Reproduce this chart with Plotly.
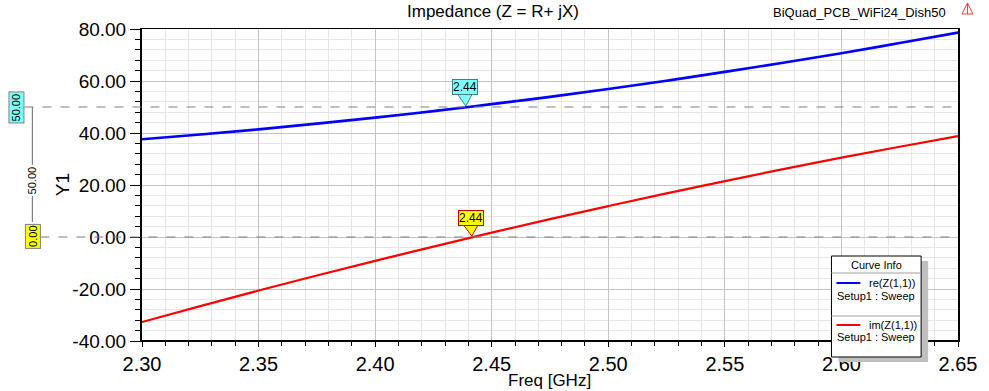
import plotly.graph_objects as go

freq = [2.300, 2.325, 2.350, 2.375, 2.400, 2.425, 2.450, 2.475, 2.500,
        2.525, 2.550, 2.575, 2.600, 2.625, 2.650]
re_z = [37.6, 39.4, 41.4, 43.6, 45.9, 48.4, 51.1, 53.9, 56.9,
        60.1, 63.5, 67.0, 70.7, 74.6, 78.6]
im_z = [-32.7, -26.6, -20.6, -14.8, -9.2, -3.7, 1.7, 6.9, 11.9,
        16.8, 21.5, 26.1, 30.5, 34.7, 38.8]

x_ticks = [2.30, 2.35, 2.40, 2.45, 2.50, 2.55, 2.60, 2.65]
y_ticks = [-40, -20, 0, 20, 40, 60, 80]

marker_freq = 2.44
marker_re = 50.0
marker_im = 0.0

W, H = 989, 391
L, R, T, B = 142, 961, 29, 341   # plot area in window pixels
FONT = "Arial, Liberation Sans, sans-serif"


def X(px):
    return (px - L) / (R - L)


def Y(py):
    return (B - py) / (B - T)


fig = go.Figure()
fig.add_trace(go.Scatter(x=freq, y=re_z, mode="lines", line=dict(color="#0000ff", width=2.6),
                         line_shape="spline", showlegend=False, hoverinfo="skip"))
fig.add_trace(go.Scatter(x=freq, y=im_z, mode="lines", line=dict(color="#ff0000", width=2.2),
                         line_shape="spline", showlegend=False, hoverinfo="skip"))

shapes = []
anns = []

# dashed marker lines
shapes.append(dict(type="line", xref="paper", yref="y", x0=X(24), x1=1, y0=marker_re, y1=marker_re,
                   line=dict(color="#808080", width=1.2, dash="dash")))
shapes.append(dict(type="line", xref="paper", yref="y", x0=X(40), x1=1, y0=marker_im, y1=marker_im,
                   line=dict(color="#808080", width=1.2, dash="dash")))
# vertical delta line at left
shapes.append(dict(type="line", xref="paper", yref="paper", x0=X(32), x1=X(32), y0=Y(107), y1=Y(222),
                   line=dict(color="#808080", width=1.2)))
anns.append(dict(xref="paper", yref="paper", x=X(32), y=Y(180), text="50.00", showarrow=False,
                 textangle=-90, bgcolor="white", font=dict(family=FONT, size=11, color="black"),
                 xanchor="center", yanchor="middle", borderpad=1))
anns.append(dict(xref="paper", yref="paper", x=X(15.5), y=Y(107.5), text="50.00", showarrow=False,
                 textangle=-90, bgcolor="#80ffff", bordercolor="#808080", borderwidth=1,
                 font=dict(family=FONT, size=11, color="black"), xanchor="center", yanchor="middle",
                 borderpad=1))
anns.append(dict(xref="paper", yref="paper", x=X(32.5), y=Y(236), text="0.00", showarrow=False,
                 textangle=-90, bgcolor="#ffff00", bordercolor="#808080", borderwidth=1,
                 font=dict(family=FONT, size=11, color="black"), xanchor="center", yanchor="middle",
                 borderpad=1))


def tri(xc, ytop, xtip, ytip, half):
    return "M {} {} L {} {} L {} {} Z".format(X(xc - half), Y(ytop), X(xc + half), Y(ytop), X(xtip), Y(ytip))


# data markers (boxes with pointers)
shapes.append(dict(type="path", xref="paper", yref="paper", path=tri(466, 93, 467, 106, 8),
                   fillcolor="#80ffff", line=dict(color="#408080", width=1)))
anns.append(dict(xref="paper", yref="paper", x=X(466), y=Y(87), text=f"{marker_freq:.2f}", showarrow=False,
                 bgcolor="#80ffff", bordercolor="#408080", borderwidth=1, borderpad=0,
                 font=dict(family=FONT, size=12, color="black"), xanchor="center", yanchor="middle"))
shapes.append(dict(type="path", xref="paper", yref="paper", path=tri(472, 224, 473, 236, 8),
                   fillcolor="#ffff00", line=dict(color="#c00000", width=1)))
anns.append(dict(xref="paper", yref="paper", x=X(472.5), y=Y(218), text=f"{marker_freq:.2f}", showarrow=False,
                 bgcolor="#ffff00", bordercolor="#c00000", borderwidth=1, borderpad=0,
                 font=dict(family=FONT, size=12, color="black"), xanchor="center", yanchor="middle"))

# bottom axis thicker line
shapes.append(dict(type="line", xref="paper", yref="paper", x0=0, x1=1, y0=0, y1=0,
                   line=dict(color="black", width=2)))

# legend box (Curve Info)
shapes.append(dict(type="rect", xref="paper", yref="paper", x0=X(841), x1=X(931), y0=Y(261), y1=Y(362),
                   fillcolor="#c0c0c0", line=dict(width=0)))
shapes.append(dict(type="rect", xref="paper", yref="paper", x0=X(834), x1=X(924), y0=Y(256), y1=Y(357),
                   fillcolor="white", line=dict(color="black", width=1)))
for sy in (273, 316):
    shapes.append(dict(type="line", xref="paper", yref="paper", x0=X(834), x1=X(924), y0=Y(sy), y1=Y(sy),
                       line=dict(color="#a0a0a0", width=1)))
anns.append(dict(xref="paper", yref="paper", x=X(879), y=Y(265), text="Curve Info", showarrow=False,
                 font=dict(family=FONT, size=11, color="black"), xanchor="center", yanchor="middle"))
for ly, col, name, sy in ((283, "#0000ff", "re(Z(1,1))", 296), (325, "#ff0000", "im(Z(1,1))", 337)):
    shapes.append(dict(type="line", xref="paper", yref="paper", x0=X(839), x1=X(863), y0=Y(ly), y1=Y(ly),
                       line=dict(color=col, width=2)))
    anns.append(dict(xref="paper", yref="paper", x=X(870), y=Y(ly), text=name, showarrow=False,
                     font=dict(family=FONT, size=11, color="black"), xanchor="left", yanchor="middle"))
    anns.append(dict(xref="paper", yref="paper", x=X(838), y=Y(sy), text="Setup1 : Sweep", showarrow=False,
                     font=dict(family=FONT, size=11, color="black"), xanchor="left", yanchor="middle"))

# titles
anns.append(dict(xref="paper", yref="paper", x=X(494), y=Y(12), text="Impedance (Z = R+ jX)", showarrow=False,
                 font=dict(family=FONT, size=17, color="black"), xanchor="center", yanchor="middle"))
anns.append(dict(xref="paper", yref="paper", x=X(862), y=Y(13), text="BiQuad_PCB_WiFi24_Dish50", showarrow=False,
                 font=dict(family=FONT, size=13, color="black"), xanchor="center", yanchor="middle"))
anns.append(dict(xref="paper", yref="paper", x=X(62), y=Y(185), text="Y1", showarrow=False, textangle=-90,
                 font=dict(family=FONT, size=19, color="black"), xanchor="center", yanchor="middle"))
anns.append(dict(xref="paper", yref="paper", x=X(551), y=Y(380), text="Freq [GHz]", showarrow=False,
                 font=dict(family=FONT, size=17, color="black"), xanchor="center", yanchor="middle"))

# small red icon top-right
shapes.append(dict(type="path", xref="paper", yref="paper",
                   path="M {} {} L {} {} L {} {} Z".format(X(965), Y(14), X(976), Y(14), X(970.5), Y(3)),
                   fillcolor="rgba(0,0,0,0)", line=dict(color="#e04040", width=1)))
shapes.append(dict(type="line", xref="paper", yref="paper", x0=X(970.5), x1=X(970.5), y0=Y(3), y1=Y(14),
                   line=dict(color="#e04040", width=1)))

fig.update_layout(
    width=W, height=H,
    margin=dict(l=L, r=W - R, t=T, b=H - B, pad=0),
    paper_bgcolor="white", plot_bgcolor="white",
    shapes=shapes, annotations=anns, showlegend=False,
    font=dict(family=FONT, color="black"),
    hovermode=False,
)
fig.update_xaxes(
    range=[2.30, 2.65], tickmode="array", tickvals=x_ticks, ticktext=[f"{v:.2f}" for v in x_ticks],
    showline=True, linecolor="black", linewidth=1, mirror=True,
    ticks="outside", ticklen=5, tickwidth=1, tickcolor="black",
    tickfont=dict(family=FONT, size=20, color="black"),
    showgrid=True, gridcolor="#c4c4c4", gridwidth=1, zeroline=False,
    minor=dict(dtick=0.01, tick0=2.30, ticks="outside", ticklen=4, tickcolor="black",
               showgrid=True, gridcolor="#e6e6e6", gridwidth=1),
)
fig.update_yaxes(
    range=[-40, 80], tickmode="array", tickvals=y_ticks, ticktext=[f"{v:.2f}" for v in y_ticks],
    showline=True, linecolor="black", linewidth=2, mirror=True,
    ticks="outside", ticklen=10, tickwidth=1, tickcolor="black",
    tickfont=dict(family=FONT, size=19, color="black"),
    showgrid=True, gridcolor="#c4c4c4", gridwidth=1, zeroline=False,
    minor=dict(dtick=4, tick0=-40, ticks="outside", ticklen=5, tickcolor="black",
               showgrid=True, gridcolor="#e6e6e6", gridwidth=1),
)

fig.write_html("out.html", config={"displayModeBar": False},
               post_script="document.body.style.margin='0';document.body.style.overflow='hidden';")
